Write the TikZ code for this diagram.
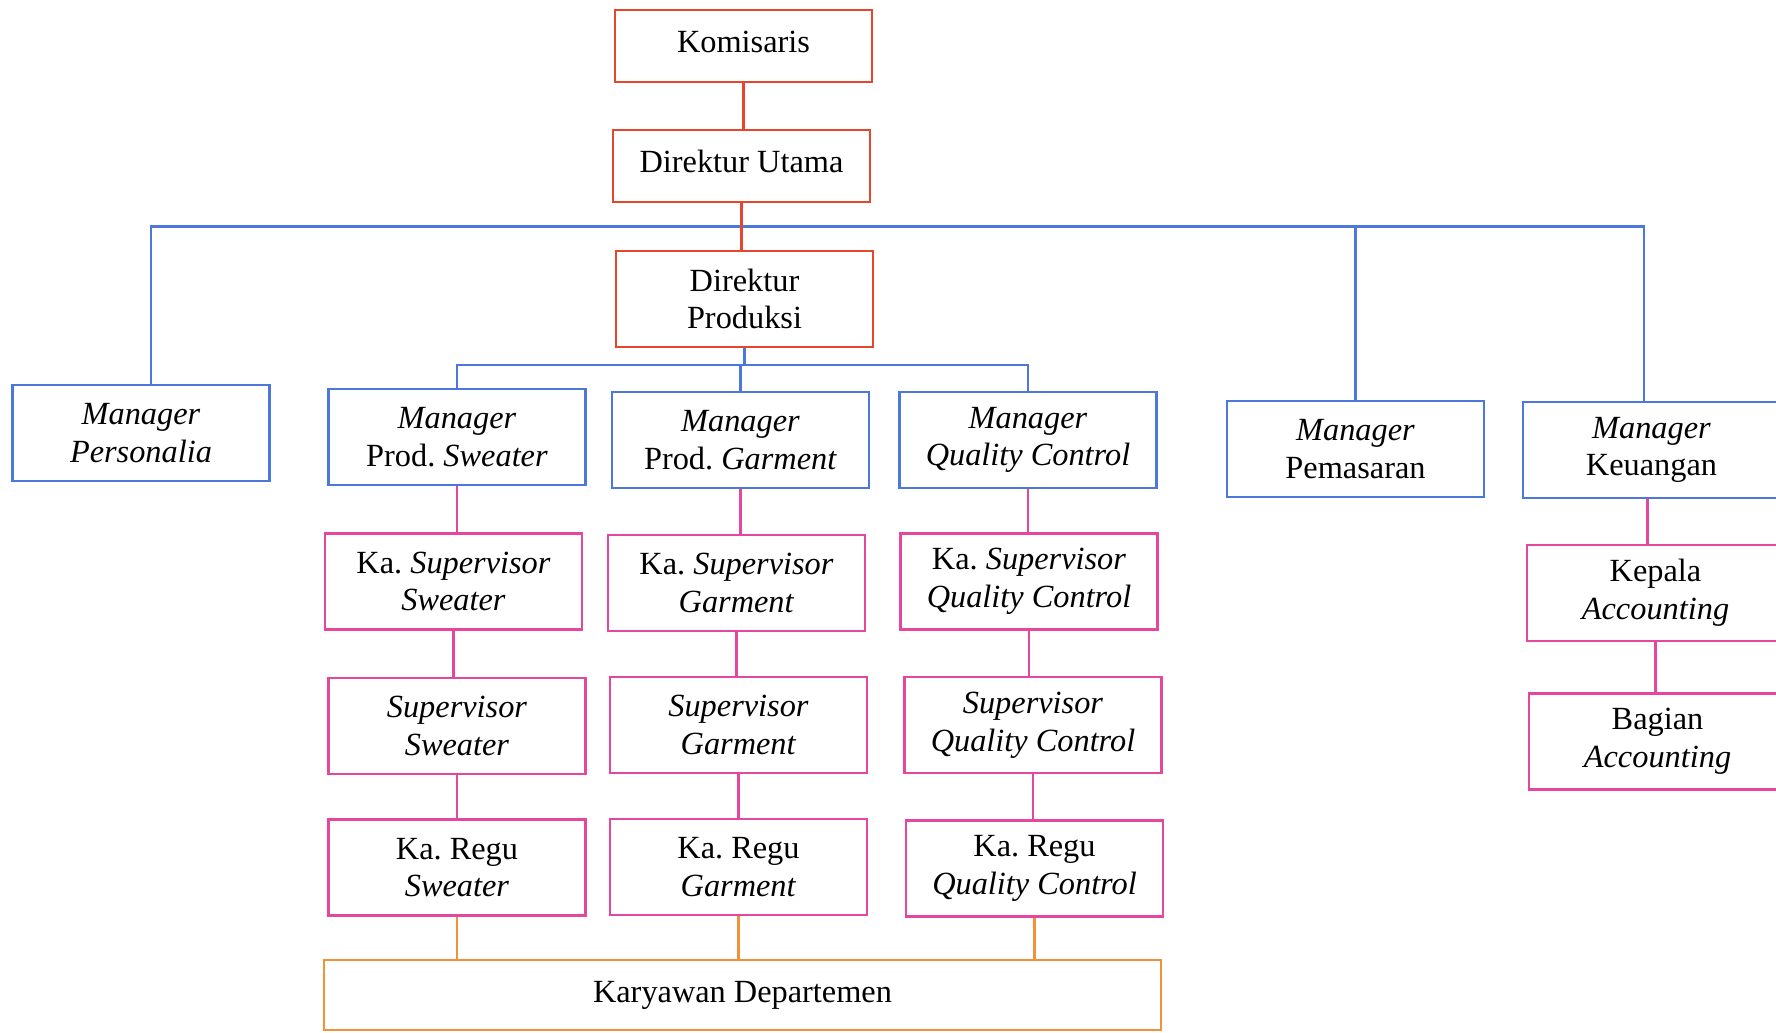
\documentclass[tikz,border=0pt]{standalone}
\usepackage{fontspec}
\setmainfont{Liberation Serif}
\usepackage{xcolor}
\usetikzlibrary{calc,positioning}
\definecolor{red}{HTML}{E6462C}
\definecolor{blue}{HTML}{4C78DC}
\definecolor{magenta}{HTML}{E5479E}
\definecolor{orange}{HTML}{F1913A}
\frenchspacing
\tikzset{
  box/.style={draw,line width=0.6pt,minimum width=25.7mm,minimum height=9.6mm,
    align=center,inner sep=1pt,font=\fontsize{9.2}{10.7}\selectfont},
  onebox/.style={box,minimum height=7.2mm,text depth=0.9mm},
  link/.style={line width=0.6pt}
}
\begin{document}
\begin{tikzpicture}[x=0.1mm,y=-0.1mm]
  \useasboundingbox (0,0) rectangle (1776,1033);
  \node[onebox,red] (kom) at (743.5,46) {\color{black}Komisaris};
  \node[onebox,red] (du) at (741.5,166) {\color{black}Direktur Utama};
  \node[box,red] (dp) at (744.5,299) {\color{black}Direktur\\\color{black}Produksi};
  \node[box,blue] (mper) at (141,433) {\color{black}\textit{Manager}\\\color{black}\textit{Personalia}};
  \node[box,blue] (mswe) at (457,437) {\color{black}\textit{Manager}\\\color{black}Prod. \textit{Sweater}};
  \node[box,blue] (mgar) at (740.5,440) {\color{black}\textit{Manager}\\\color{black}Prod. \textit{Garment}};
  \node[box,blue] (mqc) at (1028,440) {\color{black}\textit{Manager}\\\color{black}\textit{Quality Control}};
  \node[box,blue] (mpem) at (1355.5,449) {\color{black}\textit{Manager}\\\color{black}Pemasaran};
  \node[box,blue] (mkeu) at (1651.5,450) {\color{black}\textit{Manager}\\\color{black}Keuangan};
  \node[box,magenta] (kss) at (453.5,581.5) {\color{black}Ka. \textit{Supervisor}\\\color{black}\textit{Sweater}};
  \node[box,magenta] (ksg) at (736.5,583) {\color{black}Ka. \textit{Supervisor}\\\color{black}\textit{Garment}};
  \node[box,magenta] (ksq) at (1029,581.5) {\color{black}Ka. \textit{Supervisor}\\\color{black}\textit{Quality Control}};
  \node[box,magenta] (kacc) at (1655.5,593) {\color{black}Kepala\\\color{black}\textit{Accounting}};
  \node[box,magenta] (ss) at (457,726) {\color{black}\textit{Supervisor}\\\color{black}\textit{Sweater}};
  \node[box,magenta] (sg) at (738.5,725) {\color{black}\textit{Supervisor}\\\color{black}\textit{Garment}};
  \node[box,magenta] (sq) at (1033,725) {\color{black}\textit{Supervisor}\\\color{black}\textit{Quality Control}};
  \node[box,magenta] (bacc) at (1657.5,741.5) {\color{black}Bagian\\\color{black}\textit{Accounting}};
  \node[box,magenta] (krs) at (457,867.5) {\color{black}Ka. Regu\\\color{black}\textit{Sweater}};
  \node[box,magenta] (krg) at (738.5,867) {\color{black}Ka. Regu\\\color{black}\textit{Garment}};
  \node[box,magenta] (krq) at (1034.5,868.5) {\color{black}Ka. Regu\\\color{black}\textit{Quality Control}};
  \node[box,orange,minimum width=83.7mm,minimum height=7mm] (kar) at (742.5,995) {\color{black}Karyawan Departemen};
  \coordinate (bus) at ($(du.south)!0.5!(dp.north)$);
  \coordinate (bus2) at (740,365);
  \draw[link,blue] ([xshift=1mm]mper.north) |- (bus) -| ([xshift=-0.75mm]mkeu.north);
  \draw[link,blue] (mpem.north) -- (mpem.north |- bus);
  \draw[link,blue] (mswe.north) |- (bus2) -| (mqc.north);
  \draw[link,blue] (dp.south) -- (dp.south |- bus2);
  \draw[link,blue] (mgar.north) -- (mgar.north |- bus2);
  \draw[link,red] (kom.south) -- (kom.south |- du.north);
  \draw[link,red] (du.south) -- (du.south |- dp.north);
  \foreach \a/\b in {mswe/kss,kss/ss,ss/krs,mgar/ksg,ksg/sg,sg/krg,mqc/ksq,ksq/sq,sq/krq,kacc/bacc}
    \draw[link,magenta] (\a.south) -- (\a.south |- \b.north);
  \draw[link,magenta] ([xshift=-0.4mm]mkeu.south) -- ([xshift=-0.4mm]mkeu.south |- kacc.north);
  \foreach \a in {krs,krg,krq}
    \draw[link,orange] (\a.south) -- (\a.south |- kar.north);
\end{tikzpicture}
\end{document}
